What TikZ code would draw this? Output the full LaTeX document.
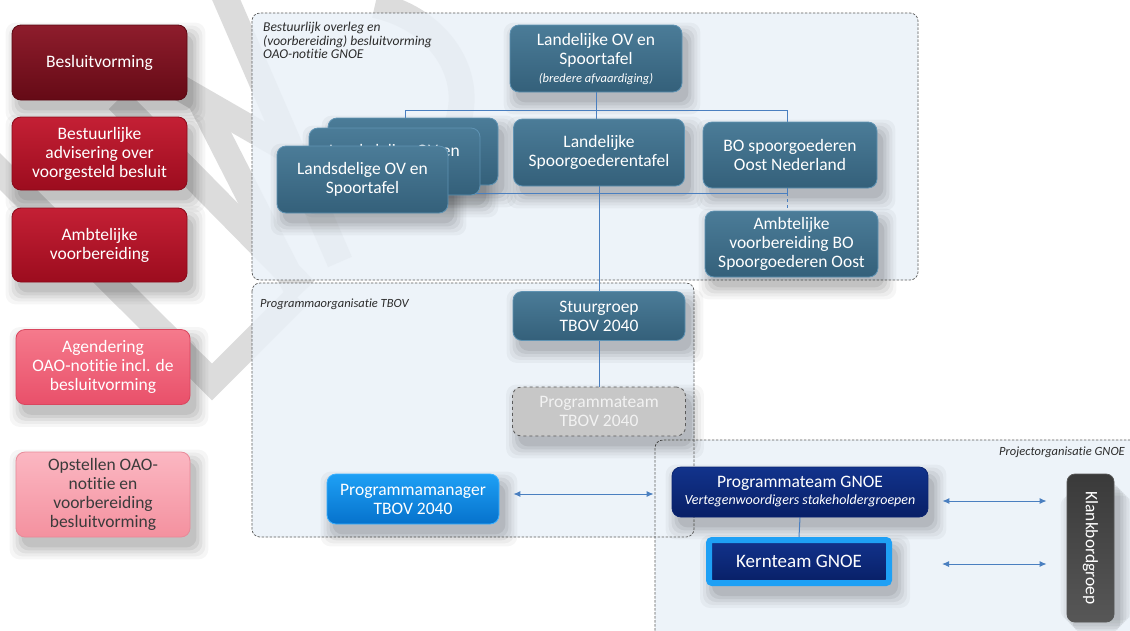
\documentclass[tikz,border=0pt]{standalone}
\usepackage{fontspec}
\setmainfont{Carlito}[Ligatures=NoCommon]
\usetikzlibrary{arrows.meta}
\pgfdeclarelayer{wm}\pgfdeclarelayer{reg}\pgfdeclarelayer{shad}\pgfdeclarelayer{conn}
\pgfsetlayers{wm,reg,shad,conn,main}
\definecolor{mrT}{HTML}{8E1D2C}\definecolor{mrB}{HTML}{650A16}\definecolor{mrD}{HTML}{5A0812}
\definecolor{crT}{HTML}{C42035}\definecolor{crB}{HTML}{9C0C1E}\definecolor{crD}{HTML}{8A0A1A}
\definecolor{pkT}{HTML}{F57A8C}\definecolor{pkB}{HTML}{E9506A}\definecolor{pkD}{HTML}{D9475F}
\definecolor{lpT}{HTML}{FBB7C2}\definecolor{lpB}{HTML}{F4919F}\definecolor{lpD}{HTML}{E88A99}
\definecolor{stT}{HTML}{4B7C98}\definecolor{stB}{HTML}{34607A}\definecolor{stD}{HTML}{5F93B3}
\definecolor{bbT}{HTML}{1EA0F5}\definecolor{bbB}{HTML}{0672CC}\definecolor{bbD}{HTML}{3BB0FF}
\definecolor{nvT}{HTML}{12338C}\definecolor{nvB}{HTML}{081F66}\definecolor{nvD}{HTML}{0A2470}
\definecolor{kbT}{HTML}{3A3A3A}\definecolor{kbB}{HTML}{575757}
\definecolor{regfill}{HTML}{EAF1F8}\definecolor{regline}{HTML}{5A5A5A}
\definecolor{conblue}{HTML}{4A7FC0}\definecolor{wmgrey}{HTML}{DCDCDC}
\definecolor{txtdark}{HTML}{3B3B3B}\definecolor{lbltxt}{HTML}{2B2B2B}
\begin{document}
\begin{tikzpicture}[x=1pt,y=-1pt,
  base/.style={rounded corners=9pt, align=center, inner sep=3pt, text=white,
    font=\fontsize{17.5}{19}\selectfont, line width=0.8pt},
  maroonbox/.style={base, top color=mrT, bottom color=mrB, draw=mrD, minimum width=175pt},
  crimsonbox/.style={base, top color=crT, bottom color=crB, draw=crD, minimum width=175pt},
  pinkbox/.style={base, top color=pkT, bottom color=pkB, draw=pkD, minimum width=174pt},
  lpinkbox/.style={base, top color=lpT, bottom color=lpB, draw=lpD, minimum width=174pt, text=txtdark},
  steelbox/.style={base, top color=stT, bottom color=stB, draw=stD},
  greybox/.style={base, fill=black!22, draw=regline, dashed, text=white!95!black},
  brightbox/.style={base, top color=bbT, bottom color=bbB, draw=bbD},
  navybox/.style={base, top color=nvT, bottom color=nvB, draw=nvD},
  kernbox/.style={base, rounded corners=3pt, top color=nvT, bottom color=nvB, draw=bbT, line width=6pt},
  klankbox/.style={base, rounded corners=8pt, top color=kbT, bottom color=kbB, draw=kbB},
  regionlabel/.style={font=\itshape\fontsize{12.5}{13.6}\selectfont, text=lbltxt, inner sep=0pt},
  regborder/.style={regline, line width=0.7pt, dash pattern=on 2.5pt off 1.5pt, rounded corners=8pt},
  conn/.style={draw=conblue, line width=1pt},
  twoway/.style={conblue, line width=1pt, {Latex[length=7pt,width=6pt]}-{Latex[length=7pt,width=6pt]}},
  wmstroke/.style={draw=wmgrey, line width=26pt}
]
\clip (0,0) rectangle (1130,630);

% background and watermark
\begin{pgfonlayer}{wm}
\fill[white] (0,0) rectangle (1130,630);
\draw[wmstroke] (-60,112) -- (212,382) -- (297,297);
\draw[wmstroke] (118,100) -- (305,290);
\draw[wmstroke] (200,100) -- (298,292);
\draw[wmstroke] (222,-10) -- (340,262);
\draw[wmstroke] (175,85) -- (340,180);
\draw[wmstroke] (375,5) .. controls (445,20) and (480,85) .. (452,135);
\end{pgfonlayer}

% regions
\begin{pgfonlayer}{reg}
\fill[regfill, fill opacity=0.85, rounded corners=8pt]
  (252,13) rectangle (918,280)
  (252,283) rectangle (694,537)
  (655,440) rectangle (1140,640);
\draw[regborder] (252,13) rectangle (918,280);
\draw[regborder] (252,283) rectangle (694,537);
\draw[regborder] (655,440) rectangle (1140,640);
\end{pgfonlayer}

\node[regionlabel, font=\itshape\fontsize{13.5}{13.6}\selectfont, anchor=north west, align=left] (lab1) at (263,22)
  {Bestuurlijk overleg en\\(voorbereiding) besluitvorming\\OAO-notitie GNOE};
\node[regionlabel, anchor=west] (lab2) at (260,304) {Programmaorganisatie TBOV};
\node[regionlabel, anchor=east] (lab3) at (1125,452) {Projectorganisatie GNOE};

% left column
\node[maroonbox, minimum height=75pt] (b1) at (99.5,62.5) {Besluitvorming};
\node[crimsonbox, minimum height=73pt] (b2) at (99.5,153.5) {Bestuurlijke\\advisering over\\voorgesteld besluit};
\node[crimsonbox, minimum height=74pt] (b3) at (99.5,245) {Ambtelijke\\voorbereiding};
\node[pinkbox, minimum height=75pt] (b4) at (103,367) {Agendering\\OAO-notitie incl. de\\besluitvorming};
\node[lpinkbox, minimum height=85pt] (b5) at (103,494.5) {Opstellen OAO-\\notitie en\\voorbereiding\\besluitvorming};

% top region nodes
\node[steelbox, minimum width=172pt, minimum height=67pt] (lov) at (596,58.5)
  {Landelijke OV en\\Spoortafel\\[-1pt]{\itshape\fontsize{12.5}{14}\selectfont (bredere afvaardiging)}};
\node[steelbox, minimum width=170pt, minimum height=67pt] (ld1) at (413,151.5) {};
\node[steelbox, minimum width=171pt, minimum height=67pt] (ld2) at (394.5,161.5) {Landsdelige OV en\\Spoortafel};
\node[steelbox, minimum width=171pt, minimum height=67pt] (ld3) at (362.5,179.5) {Landsdelige OV en\\Spoortafel};
\node[steelbox, minimum width=171pt, minimum height=67pt] (lsg) at (599,152.5) {Landelijke\\Spoorgoederentafel};
\node[steelbox, minimum width=174pt, minimum height=66pt] (bo) at (790,155) {BO spoorgoederen\\Oost Nederland};
\node[steelbox, minimum width=173pt, minimum height=66pt] (amb) at (791.5,244) {Ambtelijke\\voorbereiding BO\\Spoorgoederen Oost};

% TBOV region nodes
\node[steelbox, minimum width=172pt, minimum height=49pt] (stuur) at (599,316) {Stuurgroep\\TBOV 2040};
\node[greybox, minimum width=173pt, minimum height=49pt] (ptb) at (599,411.5) {Programmateam\\TBOV 2040};
\node[brightbox, minimum width=172pt, minimum height=50pt] (pm) at (413,499) {Programmamanager\\TBOV 2040};

% GNOE region nodes
\node[navybox, minimum width=256pt, minimum height=50pt] (pgn) at (800,492)
  {Programmateam GNOE\\[-2pt]{\itshape\fontsize{14}{15}\selectfont Vertegenwoordigers stakeholdergroepen}};
\node[kernbox, minimum width=180pt, minimum height=43pt, font=\fontsize{19}{20}\selectfont] (kern) at (799,561.5) {Kernteam GNOE};
\node[klankbox, minimum width=148pt, minimum height=47pt, rotate=-90] (kb) at (1090.5,548) {Klankbordgroep};

% soft shadows
\begin{pgfonlayer}{shad}
\foreach \n in {b1,b2,b3,b4,b5,lov,ld1,ld2,ld3,lsg,bo,amb,stuur,ptb,pm,pgn,kern,kb}{
  \foreach \e/\o in {12/0.035,9/0.04,6/0.05,3/0.06,0/0.07}{
    \fill[black, opacity=\o, rounded corners=10pt]
      ([xshift=6pt-\e pt, yshift=-10pt-\e pt]\n.south west) rectangle ([xshift=6pt+\e pt, yshift=-10pt+\e pt]\n.north east);
  }
}
\end{pgfonlayer}

% connectors
\coordinate (busL) at (405,110);
\coordinate (busR) at (787,110);
\coordinate (bus2L) at (470,193);
\coordinate (bus2R) at (787,193);
\begin{pgfonlayer}{conn}
\draw[conn] (lov.south) -- (lov.south |- busL);
\draw[conn] (ld1.north -| busL) -- (busL) -- (busR) -- (bo.north -| busR);
\draw[conn] (lov.south |- busL) -- (lsg.north -| lov.south);
\draw[conn] (bus2L) -- (bus2R) -- (bo.south -| bus2R);
\draw[conn, dashed] (bus2R) -- (amb.north -| bus2R);
\draw[conn] (lsg.south) -- (stuur.north);
\draw[conn] (stuur.south) -- (ptb.north);
\draw[conn] (pgn.south) -- (kern.north);
\end{pgfonlayer}
\coordinate (a1s) at ([xshift=14pt,yshift=5pt]pm.east);
\coordinate (a1e) at ([xshift=-18pt]pgn.west |- a1s);
\draw[twoway] (a1s) -- (a1e);
\coordinate (a2s) at ([xshift=14pt,yshift=-9pt]pgn.east);
\coordinate (a2e) at ([xshift=-20pt]kb.south |- a2s);
\draw[twoway] (a2s) -- (a2e);
\coordinate (a3s) at ([xshift=50pt,yshift=-2.5pt]kern.east);
\coordinate (a3e) at ([xshift=-20pt]kb.south |- a3s);
\draw[twoway] (a3s) -- (a3e);
\end{tikzpicture}
\end{document}
